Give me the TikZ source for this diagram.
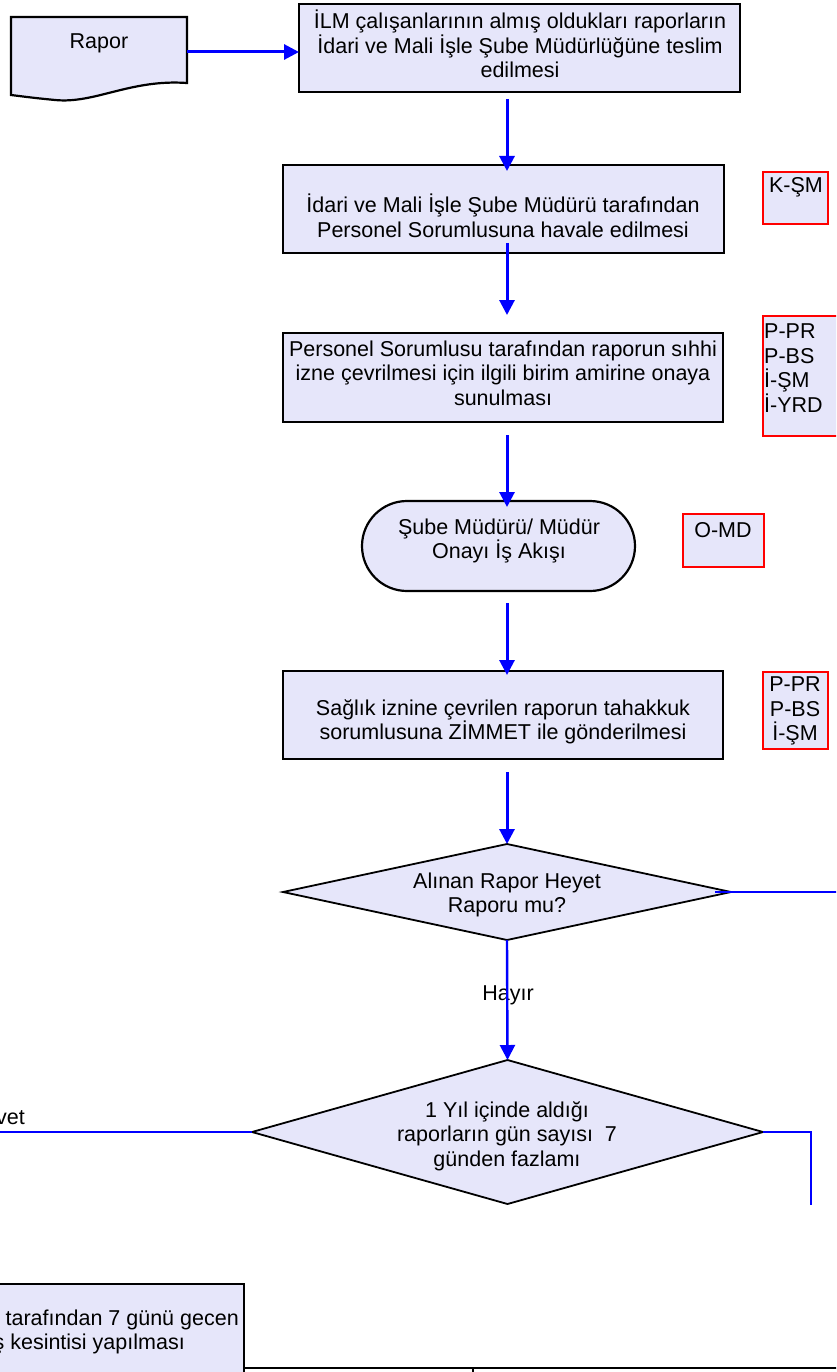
\documentclass[tikz,border=0pt]{standalone}
\usepackage{fontspec}
\setmainfont{Liberation Sans}
\usetikzlibrary{arrows.meta,shapes.geometric,calc}
\definecolor{lav}{RGB}{230,230,250}
\definecolor{bl}{RGB}{0,0,255}
\definecolor{rd}{RGB}{255,0,0}
\begin{document}
\begin{tikzpicture}[x=1pt,y=-1pt,
  font=\fontsize{21.5}{24.5}\selectfont,
  box/.style={draw=black,line width=2.2pt,fill=lav,inner sep=0pt,outer sep=0pt},
  dia/.style={diamond,draw=black,line width=1.8pt,fill=lav,inner sep=0pt,outer sep=0pt},
  codebox/.style={draw=rd,line width=1.8pt,fill=lav,inner sep=0pt,outer sep=0pt},
  txt/.style={align=center,inner sep=0pt},
  arr/.style={draw=bl,line width=3pt,-{Triangle[length=15pt,width=15pt]}},
  flow/.style={draw=bl,line width=2pt}]
\useasboundingbox (0,0) rectangle (836,1372);
\clip (0,0) rectangle (836,1372);
\coordinate (ax) at (507,0);

% Rapor document
\node[inner sep=0pt,outer sep=0pt,minimum width=176pt,minimum height=70pt] (rap) at (99,52) {};
\draw[black,line width=2.2pt,fill=lav] (11,17) -- (187,17) -- (187,83)
  .. controls (130,79) and (95,104) .. (55,100)
  .. controls (35,98) .. (11,95) -- cycle;
\node[txt] (rapt) at (99,43) {Rapor};

% main boxes
\node[box,minimum width=441pt,minimum height=88pt] (b1) at (519.5,48) {};
\node[txt] (b1t) at (520,44) {İLM çalışanlarının almış oldukları raporların\\İdari ve Mali İşle Şube Müdürlüğüne teslim\\edilmesi};

\node[box,minimum width=441pt,minimum height=88pt] (b2) at (503.5,209) {};
\node[txt] (b2t) at (503,216) {İdari ve Mali İşle Şube Müdürü tarafından\\Personel Sorumlusuna havale edilmesi};

\node[box,minimum width=440pt,minimum height=89pt] (b3) at (503,377.5) {};
\node[txt] (b3t) at (503,373) {Personel Sorumlusu tarafından raporun sıhhi\\izne çevrilmesi için ilgili birim amirine onaya\\sunulması};

\node[box,rounded corners=45pt,minimum width=273pt,minimum height=90pt] (t4) at (498.5,546) {};
\node[txt] (t4t) at (499,541) {Şube Müdürü/ Müdür\\Onayı İş Akışı};

\node[box,minimum width=440pt,minimum height=88pt] (b5) at (503,715) {};
\node[txt] (b5t) at (503,722) {Sağlık iznine çevrilen raporun tahakkuk\\sorumlusuna ZİMMET ile gönderilmesi};

\node[dia,minimum width=448pt,minimum height=96pt] (d1) at (507,892) {};
\node[txt] (d1t) at (507,895) {Alınan Rapor Heyet\\Raporu mu?};

\node[dia,minimum width=511pt,minimum height=144pt] (d2) at (507.5,1132) {};
\node[txt] (d2t) at (507,1136) {1 Yıl içinde aldığı\\raporların gün sayısı\ \ 7\\günden fazlamı};

% bottom box (partly outside the sheet, as in the reference)
\node[box,anchor=north east,minimum width=300pt,minimum height=140pt] (b7) at (244,1284) {};
\node[inner sep=0pt,anchor=east] (b7a) at (239,1320) {Tahakkuk Sorumlusu tarafından 7 günü gecen};
\node[inner sep=0pt,anchor=east] (b7b) at (185,1344) {raporlar için maaş kesintisi yapılması};

% code boxes
\node[codebox,minimum width=65pt,minimum height=52pt] (k1) at (795.5,198) {};
\node[txt] (k1t) at (796,187) {K-ŞM};
\node[codebox,anchor=north west,minimum width=100pt,minimum height=120pt] (k2) at (763,316) {};
\node[inner sep=0pt,align=left,anchor=west] (k2t) at (764,368) {P-PR\\P-BS\\İ-ŞM\\İ-YRD};
\node[codebox,minimum width=81pt,minimum height=53pt] (k3) at (723.5,540.5) {};
\node[txt] (k3t) at (723,530) {O-MD};
\node[codebox,minimum width=65pt,minimum height=77pt] (k4) at (795.5,710.5) {};
\node[txt] (k4t) at (795,711) {P-PR\\P-BS\\İ-ŞM};

% labels
\node[txt] (hay) at (508,995) {Hayır};
\node[inner sep=0pt,anchor=east] (evt) at (25,1117) {Evet};

% connectors
\draw[arr] (rap.east) -- (rap.east -| b1.west);
\draw[arr] ($(ax |- b1.south)+(0,7)$) -- ($(ax |- b2.north)+(0,6)$);
\draw[arr] ($(ax |- b2.south)+(0,-10)$) -- ($(ax |- b3.north)+(0,-18)$);
\draw[arr] ($(ax |- b3.south)+(0,13)$) -- ($(ax |- t4.north)+(0,6)$);
\draw[arr] ($(ax |- t4.south)+(0,12)$) -- ($(ax |- b5.north)+(0,4)$);
\draw[arr] ($(ax |- b5.south)+(0,13)$) -- (d1.north);
\draw[arr,line width=2.4pt] (d1.south) -- (d2.north);

\coordinate (d1out) at (845,892);
\coordinate (d2lout) at (-10,1132);
\coordinate (d2rout) at (811,1205);
\draw[flow] ($(d1.east)+(-16,0)$) -- (d1out);
\draw[flow] (d2.west) -- (d2lout);
\draw[flow] (d2.east) -| (d2rout);

% table lines at the bottom
\coordinate (tl) at (244,1368);
\coordinate (tr) at (845,1368);
\coordinate (tv) at (473,1368);
\coordinate (tvb) at (473,1380);
\draw[black,line width=2.2pt] (tl) -- (tr);
\draw[black,line width=1.5pt] (tv) -- (tvb);
\end{tikzpicture}
\end{document}
